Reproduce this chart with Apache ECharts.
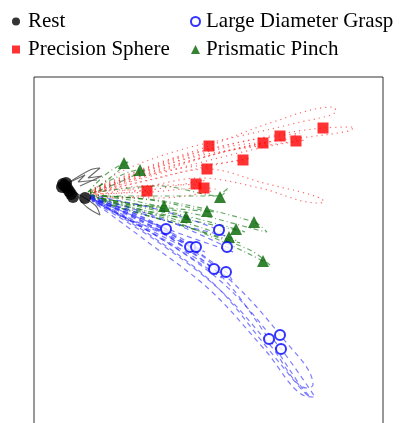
<!DOCTYPE html>
<html>
<head>
<meta charset="utf-8">
<script src="https://cdn.jsdelivr.net/npm/echarts@6/dist/echarts.min.js"></script>
<style>
html,body{margin:0;padding:0;background:#fff;}
#chart{width:401px;height:423px;}
</style>
</head>
<body>
<div id="chart"></div>
<script>
// Class names (legend)
const classNames = ['Rest', 'Precision Sphere', 'Large Diameter Grasp', 'Prismatic Pinch'];

// Final embedding points per class [x, y]
const restPoints = [[2.9,29.3],[3.2,29.4],[2.8,29.0],[3.1,29.1],[3.3,28.9],[3.5,28.6],[3.7,28.3],[3.9,28.0],[5.1,27.9]];
const precisionPoints = [[17.5,33.1],[22.9,33.4],[24.6,34.1],[26.2,33.6],[28.9,34.9],[20.9,31.7],[17.3,30.8],[16.2,29.3],[17.0,28.9],[11.3,28.6]];
const prismaticPoints = [[9.0,31.4],[10.6,30.7],[18.6,28.0],[13.0,27.1],[17.3,26.6],[15.2,26.0],[22.0,25.5],[20.2,24.8],[19.5,24.0],[22.9,21.6]];
const largePoints = [[13.2,24.8],[18.5,24.7],[15.6,23.0],[16.2,23.0],[19.3,23.0],[18.0,20.8],[19.2,20.5],[23.5,13.8],[24.6,14.2],[24.7,12.8]];

// Trajectories per class
const restTraces = [
  [[3.1,29.2],[5.6,30.7],[6.6,30.9],[5.4,29.9],[6.8,30.1],[4.6,29.1]],
  [[3.6,28.7],[6.1,27.2],[6.6,26.2],[5.4,26.9],[4.6,27.7]],
  [[3.2,29.3],[5.1,30.2],[4.4,29.5],[6.3,29.7]]
];
const precisionTraces = [
  [[5.6,28.7],[11.6,31.1],[17.5,33.1],[23.6,35.4],[29.9,37.0],[30.2,36.6],[25.8,35.3],[20.6,34.1],[14.6,32.7],[8.6,30.5],[5.8,28.6]],
  [[5.6,28.5],[14.6,31.9],[22.6,33.9],[28.9,34.9],[32.0,35.0],[31.5,34.6],[26.6,33.9],[22.9,33.4],[16.6,31.9],[9.6,29.9],[5.8,28.4]],
  [[5.6,28.6],[13.6,31.7],[20.6,33.5],[24.6,34.1],[26.6,34.4],[25.6,34.0],[19.6,32.7],[12.6,30.7],[5.8,28.5]],
  [[5.6,28.5],[15.6,31.9],[26.2,33.6],[27.1,33.7],[22.6,32.9],[14.6,30.9],[5.8,28.4]],
  [[5.6,28.5],[13.6,31.4],[22.9,33.4],[23.6,33.4],[18.6,32.4],[11.6,30.2],[5.8,28.4]],
  [[5.6,28.5],[12.6,30.5],[20.9,31.7],[21.6,31.9],[16.6,30.9],[10.6,29.5],[5.8,28.3]],
  [[5.6,28.4],[11.6,29.7],[17.3,30.8],[22.6,29.5],[29.0,27.5],[28.4,27.4],[22.6,28.9],[16.6,29.9],[10.6,28.9],[5.8,28.2]],
  [[5.6,28.4],[10.6,29.1],[16.2,29.3],[17.1,29.7],[11.6,28.7],[5.8,28.2]],
  [[5.6,28.3],[11.6,28.5],[17.0,28.9],[18.1,28.8],[12.6,27.9],[5.8,28.1]],
  [[5.4,28.3],[8.6,28.7],[11.3,28.6],[11.8,28.5],[8.6,27.9],[5.6,28.0]]
];
const prismaticTraces = [
  [[5.4,28.5],[7.1,30.2],[9.0,31.4],[9.4,31.5],[7.6,29.9],[5.6,28.4]],
  [[5.4,28.5],[8.1,29.9],[10.6,30.7],[11.1,30.7],[8.6,29.5],[5.6,28.3]],
  [[5.6,28.4],[12.6,29.1],[18.6,28.1],[19.4,28.9],[18.1,28.1],[11.6,28.1],[5.8,28.1]],
  [[5.6,28.2],[9.6,27.7],[13.0,27.1],[13.6,27.1],[9.6,27.2],[5.8,28.0]],
  [[5.6,28.2],[11.6,27.7],[17.3,26.6],[18.1,26.5],[11.6,27.1],[5.8,28.0]],
  [[5.6,28.1],[10.6,27.0],[15.2,26.0],[15.8,25.9],[10.6,26.5],[5.8,27.9]],
  [[5.6,28.2],[13.6,27.5],[22.0,25.5],[23.3,24.5],[22.4,24.7],[16.6,26.2],[10.6,27.2],[5.8,28.0]],
  [[5.6,28.1],[13.6,26.5],[20.2,24.8],[21.1,24.5],[15.6,25.7],[8.6,27.2],[5.8,27.9]],
  [[5.6,28.1],[12.6,26.2],[19.5,24.0],[20.6,23.4],[14.6,25.2],[7.6,27.2],[5.8,27.9]],
  [[5.6,28.0],[13.6,25.7],[19.6,23.2],[22.9,21.6],[23.6,21.2],[21.6,22.7],[14.6,25.2],[7.6,27.2],[5.8,27.8]]
];
const largeTraces = [
  [[5.6,28.1],[9.6,26.5],[13.2,24.8],[13.8,24.4],[9.6,25.7],[5.8,27.9]],
  [[5.6,28.2],[12.6,26.7],[18.5,24.7],[19.2,24.1],[13.6,25.5],[5.8,27.9]],
  [[5.6,28.0],[10.6,25.7],[15.6,23.0],[16.6,22.2],[11.6,24.7],[5.8,27.8]],
  [[5.6,28.0],[11.1,25.9],[16.2,23.0],[17.1,22.5],[11.6,24.9],[5.8,27.8]],
  [[5.6,28.1],[12.6,25.9],[19.3,23.0],[19.9,22.5],[13.6,24.7],[5.8,27.8]],
  [[5.6,27.9],[11.6,25.2],[18.0,20.8],[18.8,19.9],[12.6,23.9],[5.8,27.7]],
  [[5.6,27.9],[12.6,24.9],[19.2,20.5],[19.8,19.7],[13.1,23.7],[5.8,27.7]],
  [[5.6,27.9],[12.6,24.5],[18.6,20.2],[23.5,13.8],[26.6,9.2],[27.6,8.0],[26.8,8.7],[23.1,13.2],[18.1,19.2],[11.6,24.2],[5.8,27.7]],
  [[5.6,27.9],[13.1,24.7],[19.6,19.7],[24.6,14.2],[27.9,9.2],[27.3,8.9],[23.6,13.2],[18.6,18.7],[12.1,23.7],[5.8,27.6]],
  [[5.6,27.8],[12.1,24.2],[19.1,19.2],[24.7,12.8],[28.1,8.0],[27.1,8.1],[23.1,12.7],[17.6,18.7],[11.1,23.7],[5.8,27.6]]
];

const chart = echarts.init(document.getElementById('chart'), null, {renderer: 'canvas'});
const FONT = '"Liberation Serif", "Times New Roman", serif';

function traceSeries(traces, prefix, color, dash, width) {
  return traces.map((t, i) => ({
    name: prefix + i,
    type: 'line',
    data: t,
    smooth: 0.35,
    symbol: 'none',
    silent: true,
    clip: true,
    lineStyle: {color: color, width: width, type: dash},
    z: 1
  }));
}

const series = [].concat(
  traceSeries(precisionTraces, 'ps-trace-', 'rgba(255,40,40,0.7)', [1.2, 4], 1.2),
  traceSeries(prismaticTraces, 'pp-trace-', 'rgba(0,110,0,0.6)', [5, 3, 1, 3], 1.2),
  traceSeries(largeTraces, 'ld-trace-', 'rgba(40,40,255,0.6)', [5, 4], 1.2),
  traceSeries(restTraces, 'r-trace-', 'rgba(90,90,90,0.9)', 'solid', 1.1),
  [
    {name: 'Rest', type: 'scatter', data: restPoints, symbol: 'circle', symbolSize: 12,
     itemStyle: {color: '#000'}, z: 5},
    {name: 'Precision Sphere', type: 'scatter', data: precisionPoints, symbol: 'rect', symbolSize: 11,
     itemStyle: {color: '#ff0000'}, z: 5},
    {name: 'Prismatic Pinch', type: 'scatter', data: prismaticPoints, symbol: 'triangle', symbolSize: 12,
     itemStyle: {color: '#006400'}, z: 5},
    {name: 'Large Diameter Grasp', type: 'scatter', data: largePoints, symbol: 'emptyCircle', symbolSize: 10,
     itemStyle: {color: '#0000ff', borderColor: '#0000ff', borderWidth: 1.3}, z: 5}
  ]
);

const legendText = {fontFamily: FONT, fontSize: 21, color: '#000', lineHeight: 21, padding: [0, 0, 0, 3]};

chart.setOption({
  animation: false,
  backgroundColor: '#fff',
  legend: [
    {
      orient: 'vertical', left: 7, top: 6, itemGap: 7, itemWidth: 8, itemHeight: 8,
      data: [{name: classNames[0], icon: 'circle'}, {name: classNames[1], icon: 'rect'}],
      textStyle: legendText, selectedMode: false
    },
    {
      orient: 'vertical', left: 185, top: 6, itemGap: 7, itemWidth: 9, itemHeight: 9,
      data: [{name: classNames[2], icon: 'emptyCircle'}, {name: classNames[3], icon: 'triangle'}],
      textStyle: Object.assign({}, legendText, {padding: [0, 0, 0, 1]}), selectedMode: false
    }
  ],
  grid: {left: 34, top: 77, width: 349, height: 400, outerBoundsMode: 'none', containLabel: false,
         show: true, borderColor: '#333', borderWidth: 1, backgroundColor: 'transparent'},
  xAxis: {type: 'value', min: 0, max: 34.9, show: false},
  yAxis: {type: 'value', min: 0, max: 40, show: false},
  series: series
});
</script>
</body>
</html>
